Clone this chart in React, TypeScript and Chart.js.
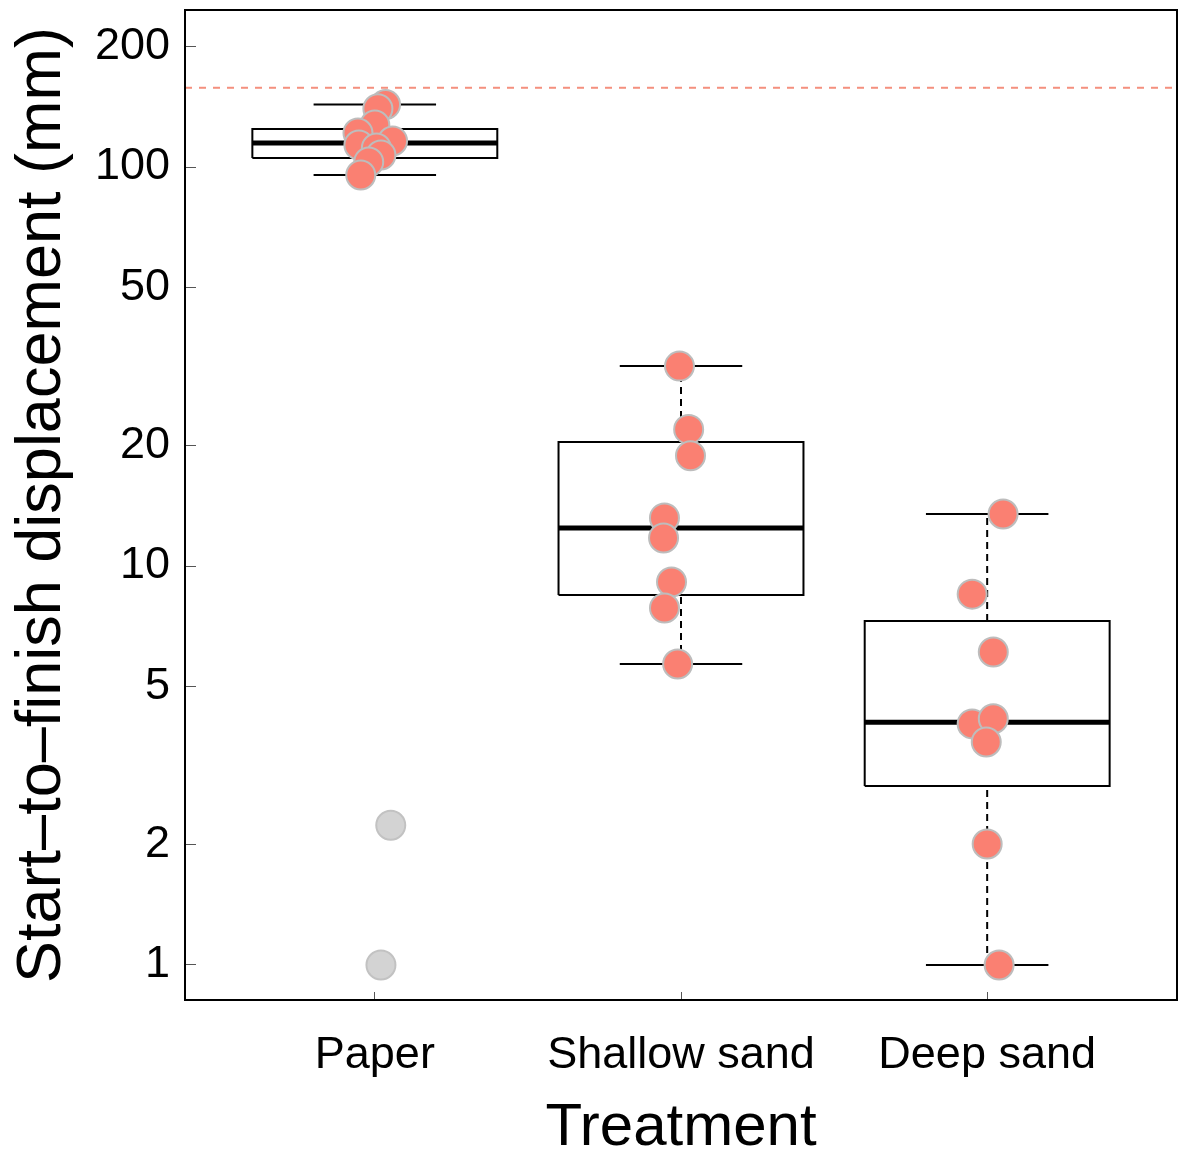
import React, { useEffect, useRef } from "react";
import { Chart, registerables } from "chart.js";

Chart.register(...registerables);

// ---- data ----
const categories = ["Paper", "Shallow sand", "Deep sand"];
const yTickValues = [1, 2, 5, 10, 20, 50, 100, 200];

const boxQ1 = [105.3, 8.46, 2.81];
const boxMedian = [114.8, 12.45, 4.06];
const boxQ3 = [124.5, 20.45, 7.28];
const whiskerLow = [95.5, 5.68, 1.0];
const whiskerHigh = [143.5, 31.7, 13.5];

const paperValues = [143.5, 140, 127.4, 121.7, 116.2, 113.6, 111.6, 107.2, 102.9, 95.5];
const paperJitter = [0.035, 0.01, 0.0, -0.055, 0.058, -0.052, 0.005, 0.02, -0.02, -0.046];
const shallowValues = [31.7, 22.0, 18.9, 13.2, 11.75, 9.12, 7.85, 5.68];
const shallowJitter = [-0.005, 0.025, 0.031, -0.054, -0.057, -0.031, -0.054, -0.011];
const deepValues = [13.5, 8.5, 6.09, 4.02, 4.14, 3.62, 2.01, 1.0];
const deepJitter = [0.052, -0.049, 0.02, -0.049, 0.02, -0.003, 0.0, 0.039];
const excludedValues = [2.24, 1.0];
const excludedJitter = [0.052, 0.02];
const thresholdValue = 158;

const xMin = 0.38;
const xMax = 3.62;
const boxHalf = 0.4;
const capHalf = 0.2;

export default function App() {
  const ref = useRef<HTMLCanvasElement | null>(null);

  useEffect(() => {
    if (!ref.current) return;
    const gap = (x: number) => ({ x, y: null as any });

    const boxes: any[] = [];
    const medians: any[] = [];
    const caps: any[] = [];
    const whiskers: any[] = [];
    categories.forEach((_, i) => {
      const c = i + 1;
      boxes.push(
        { x: c - boxHalf, y: boxQ1[i] },
        { x: c + boxHalf, y: boxQ1[i] },
        { x: c + boxHalf, y: boxQ3[i] },
        { x: c - boxHalf, y: boxQ3[i] },
        { x: c - boxHalf, y: boxQ1[i] },
        gap(c)
      );
      medians.push({ x: c - boxHalf, y: boxMedian[i] }, { x: c + boxHalf, y: boxMedian[i] }, gap(c));
      caps.push(
        { x: c - capHalf, y: whiskerLow[i] },
        { x: c + capHalf, y: whiskerLow[i] },
        gap(c),
        { x: c - capHalf, y: whiskerHigh[i] },
        { x: c + capHalf, y: whiskerHigh[i] },
        gap(c)
      );
      whiskers.push(
        { x: c, y: boxQ3[i] },
        { x: c, y: whiskerHigh[i] },
        gap(c + 0.01),
        { x: c, y: whiskerLow[i] },
        { x: c, y: boxQ1[i] },
        gap(c + 0.02)
      );
    });

    const points = [
      ...paperValues.map((v, k) => ({ x: 1 + paperJitter[k], y: v })),
      ...shallowValues.map((v, k) => ({ x: 2 + shallowJitter[k], y: v })),
      ...deepValues.map((v, k) => ({ x: 3 + deepJitter[k], y: v })),
    ];
    const excluded = excludedValues.map((v, k) => ({ x: 1 + excludedJitter[k], y: v }));

    const lineDs = (data: any[], opts: any) => ({
      data,
      showLine: true,
      pointRadius: 0,
      pointHoverRadius: 0,
      spanGaps: false,
      borderColor: "#000",
      borderWidth: 2,
      fill: false,
      tension: 0,
      clip: false,
      ...opts,
    });

    const framePlugin = {
      id: "frame",
      afterDatasetsDraw(chart: any) {
        const { ctx, chartArea } = chart;
        ctx.save();
        ctx.strokeStyle = "#000";
        ctx.lineWidth = 2;
        ctx.strokeRect(chartArea.left, chartArea.top, chartArea.right - chartArea.left, chartArea.bottom - chartArea.top);
        ctx.restore();
      },
    };

    const chart = new Chart(ref.current, {
      type: "scatter",
      data: {
        datasets: [
          {
            data: points,
            pointRadius: 14.5,
            pointBackgroundColor: "#FA8072",
            pointBorderColor: "#BDBDBD",
            pointBorderWidth: 2,
            showLine: false,
            order: 0,
            clip: false,
          } as any,
          {
            data: excluded,
            pointRadius: 14.5,
            pointBackgroundColor: "#D3D3D3",
            pointBorderColor: "#C2C2C2",
            pointBorderWidth: 2,
            showLine: false,
            order: 1,
            clip: false,
          } as any,
          lineDs(medians, { borderWidth: 5, borderCapStyle: "butt", order: 2 }),
          lineDs(boxes, { borderWidth: 2, borderJoinStyle: "miter", order: 3 }),
          lineDs(caps, { borderWidth: 2, order: 4 }),
          lineDs(whiskers, { borderWidth: 2, borderDash: [7, 5], order: 5 }),
          lineDs(
            [
              { x: xMin, y: thresholdValue },
              { x: xMax, y: thresholdValue },
            ],
            { borderColor: "#F4907E", borderWidth: 2, borderDash: [7, 7], order: 6 }
          ),
        ],
      },
      options: {
        animation: false,
        responsive: false,
        devicePixelRatio: 1,
        events: [],
        layout: { autoPadding: false, padding: { top: 10, right: 5, left: 0, bottom: 0 } },
        plugins: { legend: { display: false }, tooltip: { enabled: false } },
        scales: {
          x: {
            type: "linear",
            min: xMin,
            max: xMax,
            afterBuildTicks: (scale: any) => {
              scale.ticks = categories.map((_, i) => ({ value: i + 1 }));
            },
            afterFit: (scale: any) => {
              scale.height = 152;
              scale.paddingLeft = 0;
              scale.paddingRight = 0;
            },
            ticks: {
              autoSkip: false,
              maxRotation: 0,
              padding: 37,
              color: "#000",
              font: { family: "'Liberation Sans', Arial, sans-serif", size: 45 },
              callback: (v: any) => categories[Math.round(Number(v)) - 1] ?? "",
            },
            grid: { drawOnChartArea: false, drawTicks: true, tickLength: -8, color: "#555", lineWidth: 1 },
            border: { display: false },
            title: {
              display: true,
              text: "Treatment",
              color: "#000",
              font: { family: "'Liberation Sans', Arial, sans-serif", size: 60, lineHeight: 0.8 },
              padding: { top: 0, bottom: 0 },
            },
          },
          y: {
            type: "logarithmic",
            min: 0.817,
            max: 247.5,
            afterBuildTicks: (scale: any) => {
              scale.ticks = yTickValues.map((v) => ({ value: v }));
            },
            afterFit: (scale: any) => {
              scale.width = 185;
              scale.paddingTop = 0;
              scale.paddingBottom = 0;
            },
            ticks: {
              autoSkip: false,
              padding: 26,
              color: "#000",
              font: { family: "'Liberation Sans', Arial, sans-serif", size: 45 },
              callback: (v: any) => String(v),
            },
            grid: { drawOnChartArea: false, drawTicks: true, tickLength: -11, color: "#555", lineWidth: 1 },
            border: { display: false },
            title: {
              display: true,
              text: "Start\u2013to\u2013finish displacement (mm)",
              color: "#000",
              font: { family: "'Liberation Sans', Arial, sans-serif", size: 63, lineHeight: 1 },
              padding: { top: 11, bottom: 0 },
            },
          },
        },
      },
      plugins: [framePlugin],
    } as any);

    return () => chart.destroy();
  }, []);

  return (
    <div style={{ position: "absolute", left: 0, top: 0, width: 1182, height: 1152, background: "#fff" }}>
      <canvas ref={ref} width={1182} height={1152} style={{ width: 1182, height: 1152, display: "block" }} />
    </div>
  );
}
